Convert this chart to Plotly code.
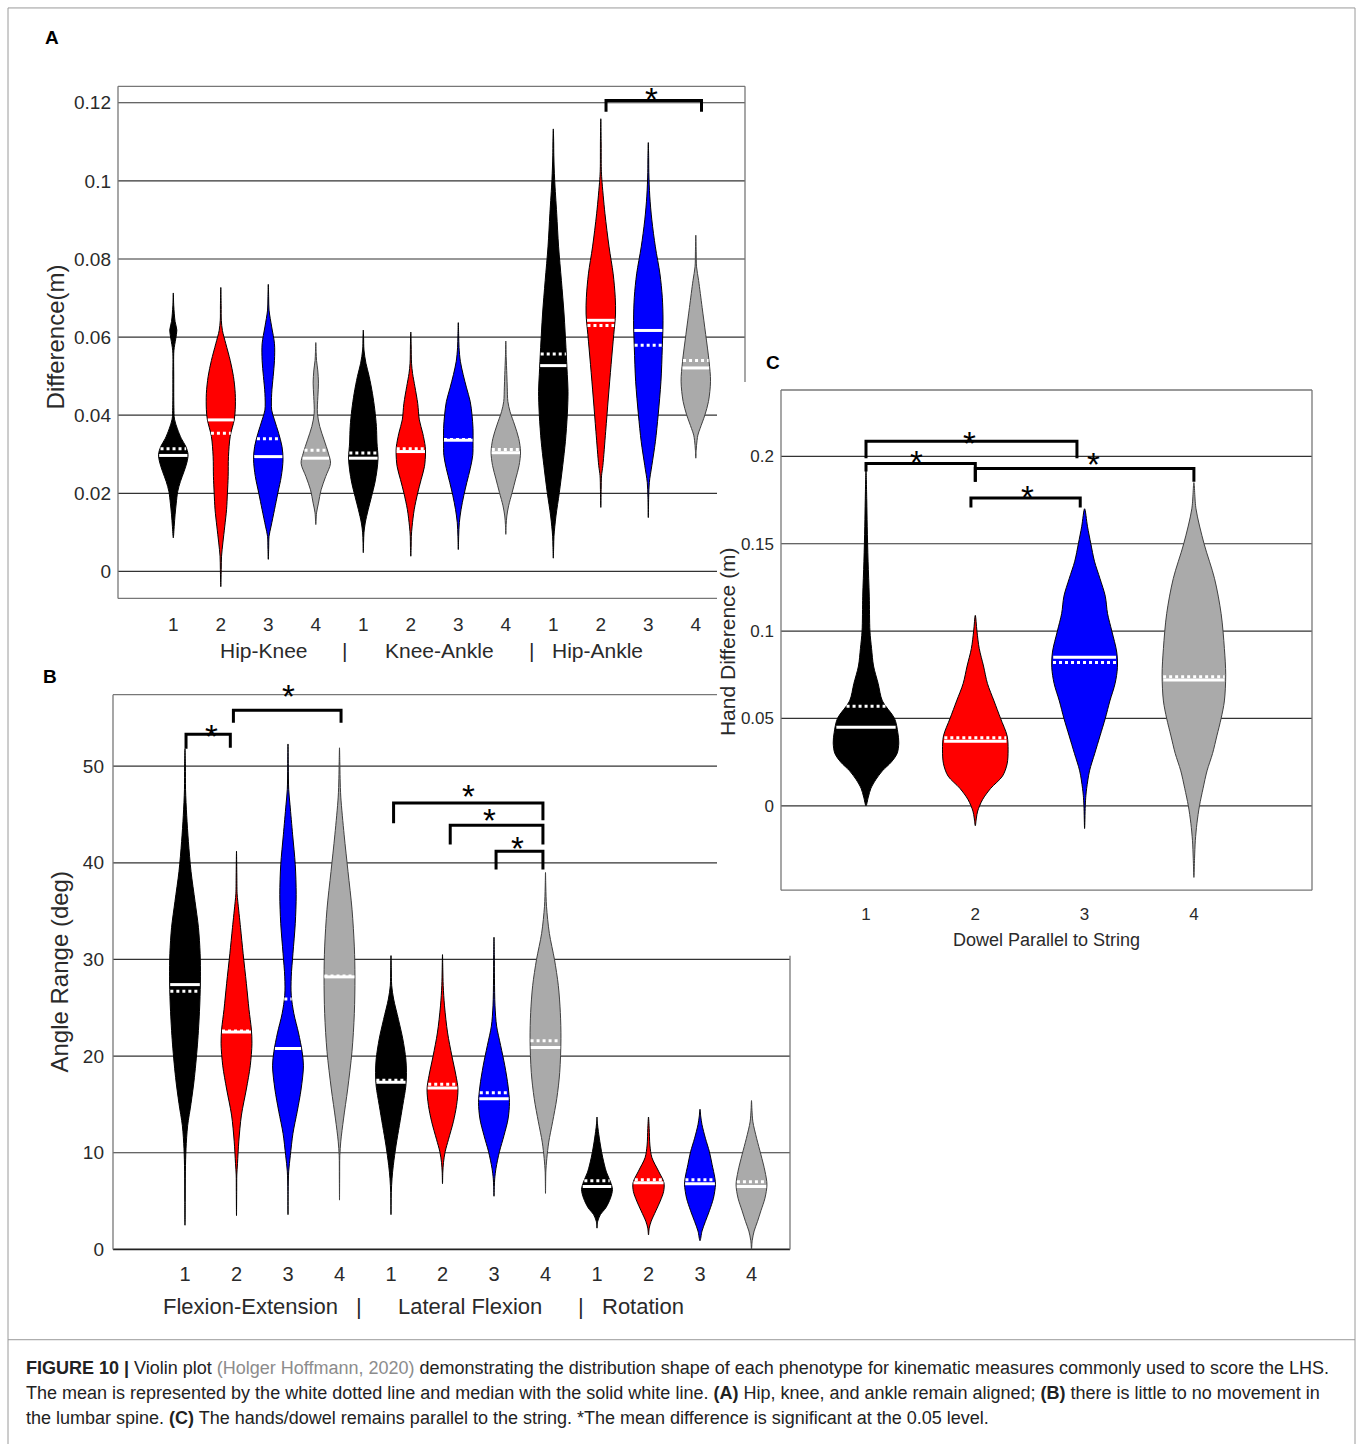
import numpy as np
import plotly.graph_objects as go

# ===================== DATA =====================
phenotypes = ["1", "2", "3", "4"]

# ---- Panel A : Difference (m) ----
A_groups = ["Hip-Knee", "Knee-Ankle", "Hip-Ankle"]
A_ticklabels = phenotypes * 3
A_yticks = [0, 0.02, 0.04, 0.06, 0.08, 0.10, 0.12]
A_yticklabels = ["0", "0.02", "0.04", "0.06", "0.08", "0.1", "0.12"]
A_median = [0.0297, 0.0388, 0.0294, 0.0290, 0.0290, 0.0307, 0.0336, 0.0304, 0.0527, 0.0643, 0.0617, 0.0521]
A_mean = [0.0314, 0.0354, 0.0340, 0.0310, 0.0303, 0.0314, 0.0338, 0.0312, 0.0557, 0.0630, 0.0579, 0.0540]
# density profile of each violin: heights and relative density (1 = widest)
A_dens_y = [
    [0.0086, 0.0115, 0.0145, 0.0175, 0.0205, 0.0230, 0.0255, 0.0280, 0.0300, 0.0320, 0.0340, 0.0365, 0.0390, 0.0420, 0.0500, 0.0565, 0.0595, 0.0618, 0.0640, 0.0680, 0.0713],
    [-0.0039, 0.0005, 0.0039, 0.0073, 0.0116, 0.0158, 0.0201, 0.0243, 0.0294, 0.0346, 0.0388, 0.0414, 0.0456, 0.0499, 0.0540, 0.0583, 0.0617, 0.0643, 0.0680, 0.0727],
    [0.0031, 0.0060, 0.0090, 0.0116, 0.0158, 0.0201, 0.0243, 0.0286, 0.0320, 0.0354, 0.0388, 0.0413, 0.0456, 0.0499, 0.0540, 0.0583, 0.0626, 0.0669, 0.0700, 0.0735],
    [0.0120, 0.0150, 0.0175, 0.0209, 0.0243, 0.0277, 0.0303, 0.0337, 0.0371, 0.0405, 0.0448, 0.0482, 0.0516, 0.0540, 0.0560, 0.0586],
    [0.0048, 0.0075, 0.0099, 0.0124, 0.0158, 0.0192, 0.0226, 0.0260, 0.0290, 0.0329, 0.0371, 0.0414, 0.0456, 0.0499, 0.0533, 0.0567, 0.0600, 0.0618],
    [0.0039, 0.0065, 0.0090, 0.0116, 0.0158, 0.0201, 0.0235, 0.0269, 0.0303, 0.0320, 0.0354, 0.0388, 0.0430, 0.0473, 0.0507, 0.0533, 0.0580, 0.0613],
    [0.0056, 0.0090, 0.0125, 0.0159, 0.0194, 0.0228, 0.0263, 0.0297, 0.0332, 0.0366, 0.0401, 0.0435, 0.0470, 0.0504, 0.0538, 0.0573, 0.0605, 0.0637],
    [0.0095, 0.0120, 0.0142, 0.0168, 0.0202, 0.0237, 0.0271, 0.0306, 0.0340, 0.0375, 0.0409, 0.0435, 0.0470, 0.0504, 0.0550, 0.0590],
    [0.0034, 0.0065, 0.0090, 0.0142, 0.0202, 0.0271, 0.0332, 0.0401, 0.0461, 0.0504, 0.0573, 0.0659, 0.0745, 0.0831, 0.0917, 0.1004, 0.1064, 0.1100, 0.1133],
    [0.0164, 0.0210, 0.0245, 0.0271, 0.0358, 0.0444, 0.0530, 0.0607, 0.0659, 0.0702, 0.0762, 0.0831, 0.0917, 0.1004, 0.1030, 0.1100, 0.1159],
    [0.0138, 0.0190, 0.0228, 0.0271, 0.0332, 0.0401, 0.0487, 0.0573, 0.0642, 0.0702, 0.0762, 0.0831, 0.0900, 0.0961, 0.1021, 0.1060, 0.1098],
    [0.0290, 0.0310, 0.0323, 0.0349, 0.0366, 0.0401, 0.0435, 0.0487, 0.0538, 0.0607, 0.0676, 0.0745, 0.0780, 0.0820, 0.0861],
]
A_dens_w = [
    [0.0, 0.06, 0.12, 0.20, 0.30, 0.48, 0.72, 0.93, 1.0, 0.85, 0.55, 0.28, 0.08, 0.04, 0.03, 0.04, 0.16, 0.24, 0.12, 0.03, 0.0],
    [0.0, 0.03, 0.05, 0.14, 0.27, 0.39, 0.45, 0.50, 0.52, 0.64, 0.91, 0.98, 0.98, 0.86, 0.64, 0.34, 0.11, 0.035, 0.025, 0.0],
    [0.0, 0.025, 0.05, 0.19, 0.42, 0.65, 0.88, 1.0, 0.93, 0.70, 0.42, 0.23, 0.23, 0.33, 0.42, 0.42, 0.23, 0.05, 0.025, 0.0],
    [0.0, 0.05, 0.18, 0.36, 0.67, 1.0, 0.85, 0.56, 0.27, 0.11, 0.14, 0.18, 0.13, 0.05, 0.025, 0.0],
    [0.0, 0.02, 0.045, 0.13, 0.33, 0.56, 0.78, 0.93, 1.0, 0.93, 0.89, 0.78, 0.62, 0.40, 0.18, 0.045, 0.02, 0.0],
    [0.0, 0.025, 0.035, 0.09, 0.23, 0.47, 0.70, 0.93, 1.0, 0.98, 0.81, 0.58, 0.47, 0.28, 0.12, 0.05, 0.025, 0.0],
    [0.0, 0.025, 0.07, 0.19, 0.37, 0.58, 0.81, 0.98, 1.0, 1.0, 0.93, 0.81, 0.56, 0.33, 0.14, 0.05, 0.025, 0.0],
    [0.0, 0.025, 0.07, 0.19, 0.43, 0.67, 0.90, 1.0, 0.88, 0.60, 0.29, 0.14, 0.10, 0.07, 0.025, 0.0],
    [0.0, 0.025, 0.045, 0.18, 0.41, 0.64, 0.82, 0.95, 1.0, 0.95, 0.86, 0.73, 0.55, 0.36, 0.23, 0.09, 0.035, 0.025, 0.0],
    [0.0, 0.025, 0.05, 0.14, 0.33, 0.51, 0.70, 0.88, 1.0, 0.98, 0.84, 0.56, 0.28, 0.07, 0.035, 0.025, 0.0],
    [0.0, 0.025, 0.07, 0.24, 0.48, 0.67, 0.86, 0.95, 1.0, 0.95, 0.79, 0.48, 0.24, 0.10, 0.035, 0.025, 0.0],
    [0.0, 0.025, 0.05, 0.14, 0.29, 0.62, 0.86, 1.0, 0.90, 0.67, 0.43, 0.19, 0.05, 0.025, 0.0],
]
A_sig_x = [[10.11, 12.12]]
A_sig_y = [[0.1177, 0.1206, 0.1177]]
A_star = [[11.06, 0.1231]]

# ---- Panel B : Angle Range (deg) ----
B_groups = ["Flexion-Extension", "Lateral Flexion", "Rotation"]
B_ticklabels = phenotypes * 3
B_yticks = [0, 10, 20, 30, 40, 50]
B_yticklabels = ["0", "10", "20", "30", "40", "50"]
B_median = [27.4, 22.5, 20.8, 28.2, 17.3, 16.7, 15.6, 20.9, 6.5, 6.9, 6.8, 6.5]
B_mean = [26.7, 22.6, 25.9, 28.3, 17.5, 17.1, 16.2, 21.6, 7.1, 7.2, 7.2, 7.0]
B_dens_y = [
    [2.5, 5.0, 8.1, 10.4, 12.8, 15.1, 17.8, 21.7, 25.5, 28.2, 30.6, 33.3, 36.0, 39.1, 42.2, 44.9, 47.6, 50.0, 51.8],
    [3.5, 6.0, 7.7, 8.9, 11.2, 13.9, 16.6, 19.0, 21.3, 22.8, 24.8, 27.5, 30.6, 33.3, 36.0, 36.8, 39.0, 41.2],
    [3.6, 6.0, 8.1, 9.7, 12.0, 14.3, 16.6, 19.0, 20.5, 22.4, 24.4, 26.3, 28.2, 30.6, 33.7, 36.7, 39.8, 42.9, 46.0, 47.6, 50.0, 52.3],
    [5.1, 7.5, 9.7, 11.2, 13.5, 16.6, 20.5, 24.4, 28.2, 31.3, 35.2, 39.1, 42.9, 46.8, 48.7, 50.5, 51.9],
    [3.6, 5.9, 7.3, 8.7, 10.8, 12.8, 14.9, 16.9, 18.3, 19.7, 21.8, 23.8, 25.9, 27.3, 29.0, 30.4],
    [6.8, 8.0, 9.0, 10.1, 11.4, 13.2, 14.9, 16.6, 18.0, 20.0, 22.4, 25.2, 27.3, 29.0, 30.5],
    [5.5, 6.5, 7.3, 8.4, 10.1, 11.8, 13.5, 15.2, 16.9, 19.0, 21.1, 23.1, 25.2, 28.0, 30.5, 32.3],
    [5.8, 7.0, 8.0, 9.4, 11.1, 13.2, 15.6, 18.3, 21.8, 24.5, 27.3, 30.0, 32.7, 35.5, 37.5, 39.0],
    [2.2, 2.9, 3.6, 4.3, 5.3, 6.2, 7.0, 8.0, 9.5, 10.8, 12.2, 13.0, 13.7],
    [1.5, 2.2, 2.9, 4.0, 5.0, 6.0, 6.9, 8.1, 9.5, 10.8, 12.5, 13.7],
    [0.9, 1.9, 2.9, 4.0, 5.3, 6.7, 7.4, 8.8, 10.1, 11.5, 12.9, 13.8, 14.5],
    [0.0, 0.9, 1.9, 2.9, 4.0, 5.3, 6.7, 8.1, 9.8, 11.5, 13.2, 14.4, 15.4],
]
B_dens_w = [
    [0.0, 0.015, 0.025, 0.065, 0.17, 0.39, 0.61, 0.83, 0.96, 1.0, 0.98, 0.87, 0.65, 0.39, 0.22, 0.11, 0.035, 0.025, 0.0],
    [0.0, 0.012, 0.02, 0.065, 0.15, 0.32, 0.64, 0.89, 1.0, 0.96, 0.81, 0.64, 0.43, 0.26, 0.085, 0.04, 0.02, 0.0],
    [0.0, 0.01, 0.045, 0.15, 0.32, 0.60, 0.85, 1.0, 0.91, 0.68, 0.38, 0.21, 0.21, 0.32, 0.47, 0.53, 0.47, 0.30, 0.13, 0.045, 0.02, 0.0],
    [0.0, 0.01, 0.02, 0.085, 0.26, 0.53, 0.81, 0.96, 1.0, 0.96, 0.81, 0.55, 0.30, 0.085, 0.04, 0.02, 0.0],
    [0.0, 0.02, 0.065, 0.15, 0.33, 0.54, 0.76, 0.96, 1.0, 0.96, 0.76, 0.48, 0.17, 0.045, 0.02, 0.0],
    [0.0, 0.02, 0.065, 0.17, 0.39, 0.70, 0.91, 1.0, 0.87, 0.61, 0.33, 0.13, 0.045, 0.02, 0.0],
    [0.0, 0.02, 0.045, 0.13, 0.35, 0.65, 0.91, 1.0, 0.91, 0.70, 0.43, 0.17, 0.065, 0.03, 0.02, 0.0],
    [0.0, 0.01, 0.02, 0.085, 0.21, 0.46, 0.73, 0.92, 1.0, 0.96, 0.83, 0.58, 0.25, 0.065, 0.02, 0.0],
    [0.0, 0.045, 0.22, 0.57, 0.87, 1.0, 0.87, 0.61, 0.37, 0.22, 0.09, 0.03, 0.0],
    [0.0, 0.045, 0.17, 0.48, 0.76, 0.98, 1.0, 0.65, 0.22, 0.09, 0.045, 0.0],
    [0.0, 0.13, 0.35, 0.61, 0.87, 1.0, 0.96, 0.78, 0.61, 0.35, 0.13, 0.045, 0.0],
    [0.0, 0.045, 0.17, 0.39, 0.61, 0.87, 1.0, 0.87, 0.61, 0.33, 0.09, 0.03, 0.0],
]
B_sig_x = [[1.02, 1.88], [1.94, 4.03], [5.05, 7.95], [6.15, 7.95], [7.04, 7.95]]
B_sig_y = [[51.8, 53.3, 51.9], [54.5, 55.8, 54.5], [44.1, 46.2, 44.4], [41.9, 43.9, 41.9], [39.3, 41.2, 39.3]]
B_star = [[1.52, 54.0], [3.0, 58.1], [6.5, 47.8], [6.91, 45.3], [7.45, 42.4]]

# ---- Panel C : Hand Difference (m) ----
C_xtitle = "Dowel Parallel to String"
C_ticklabels = phenotypes
C_yticks = [0, 0.05, 0.10, 0.15, 0.20]
C_yticklabels = ["0", "0.05", "0.1", "0.15", "0.2"]
C_median = [0.045, 0.037, 0.085, 0.072]
C_mean = [0.057, 0.039, 0.082, 0.0738]
C_dens_y = [
    [0.000, 0.005, 0.010, 0.015, 0.020, 0.025, 0.030, 0.036, 0.042, 0.050, 0.060, 0.070, 0.080, 0.090, 0.100, 0.120, 0.140, 0.160, 0.175, 0.192],
    [-0.0114, -0.007, -0.003, 0.0035, 0.010, 0.017, 0.024, 0.032, 0.040, 0.050, 0.060, 0.070, 0.080, 0.090, 0.100, 0.109],
    [-0.013, 0.000, 0.006, 0.010, 0.020, 0.030, 0.040, 0.050, 0.060, 0.070, 0.079, 0.088, 0.100, 0.110, 0.120, 0.130, 0.140, 0.150, 0.160, 0.170],
    [-0.041, -0.030, -0.020, -0.010, 0.000, 0.010, 0.020, 0.030, 0.040, 0.050, 0.060, 0.075, 0.090, 0.110, 0.130, 0.150, 0.170, 0.185],
]
C_dens_w = [
    [0.0, 0.07, 0.15, 0.30, 0.50, 0.77, 0.95, 1.0, 0.97, 0.87, 0.50, 0.37, 0.23, 0.17, 0.12, 0.10, 0.063, 0.037, 0.023, 0.0],
    [0.0, 0.033, 0.073, 0.22, 0.47, 0.83, 0.97, 1.0, 0.97, 0.77, 0.57, 0.37, 0.25, 0.12, 0.05, 0.0],
    [0.0, 0.02, 0.04, 0.063, 0.15, 0.31, 0.47, 0.63, 0.77, 0.93, 1.0, 0.98, 0.83, 0.70, 0.63, 0.47, 0.30, 0.19, 0.087, 0.0],
    [0.0, 0.02, 0.043, 0.093, 0.17, 0.28, 0.40, 0.57, 0.70, 0.83, 0.93, 0.97, 0.93, 0.83, 0.63, 0.31, 0.063, 0.0],
]
C_sig_x = [[1.0, 2.93], [1.0, 2.0], [2.0, 4.0], [1.96, 2.96]]
C_sig_y = [[0.199, 0.2087, 0.199], [0.1914, 0.1959, 0.1855], [0.1855, 0.1931, 0.1855], [0.1707, 0.1762, 0.1707]]
C_star = [[1.95, 0.2126], [1.46, 0.2018], [3.08, 0.2005], [2.48, 0.1817]]

caption_lines = [
    "<b>FIGURE 10 |</b> Violin plot <span style='color:#8c8c8c'>(Holger Hoffmann, 2020)</span> demonstrating the distribution shape of each phenotype for kinematic measures commonly used to score the LHS.",
    "The mean is represented by the white dotted line and median with the solid white line. <b>(A)</b> Hip, knee, and ankle remain aligned; <b>(B)</b> there is little to no movement in",
    "the lumbar spine. <b>(C)</b> The hands/dowel remains parallel to the string. *The mean difference is significant at the 0.05 level.",
]

# ===================== STYLE / LAYOUT =====================
W, H = 1360, 1444
FONT = "Liberation Sans, Arial, Helvetica, sans-serif"
TXT = "#2a2a2a"
FILL = ["#000000", "#ff0000", "#0000ff", "#aaaaaa"]
EDGE = ["#000000", "#000000", "#000000", "#404040"]
GRID = "#333333"
BOXC = "#777777"


def px_x(px):
    return px / W


def px_y(py):
    return 1 - py / H


# plot-area boxes in pixels (left, top, right, bottom), first-category pixel, category step
GEO = {
    "A": dict(box=(118, 87, 745, 603), x0px=173.3, step=47.5, yr=(-0.0069, 0.1242), hw=0.31, xa="x", ya="y"),
    "B": dict(box=(113, 700, 790, 1259), x0px=185.0, step=51.5, yr=(0.0, 57.4), hw=0.30, xa="x2", ya="y2"),
    "C": dict(box=(781, 393, 1312, 897), x0px=866.0, step=109.3, yr=(-0.0483, 0.238), hw=0.30, xa="x3", ya="y3"),
}
COVER_LEFT, COVER_TOP, COVER_BOTTOM = 717, 385, 963  # region hidden behind panel C's picture

for g in GEO.values():
    l, t, r, b = g["box"]
    g["xr"] = (1 + (l - g["x0px"]) / g["step"], 1 + (r - g["x0px"]) / g["step"])


def val_to_py(g, v):
    l, t, r, b = g["box"]
    return b - (v - g["yr"][0]) / (g["yr"][1] - g["yr"][0]) * (b - t)


fig = go.Figure()
shapes = []
annos = []


def add_violins(key, dens_y, dens_w, med, mean):
    g = GEO[key]
    for i, (ys, ws) in enumerate(zip(dens_y, dens_w)):
        pos = i + 1
        ys = np.asarray(ys, float)
        hw = np.asarray(ws, float) * g["hw"]
        xs = np.concatenate([pos + hw, (pos - hw)[::-1][1:]])
        yy = np.concatenate([ys, ys[::-1][1:]])
        c = i % 4
        fig.add_trace(go.Scatter(
            x=xs, y=yy, mode="lines", fill="toself", fillcolor=FILL[c],
            line=dict(color=EDGE[c], width=1, shape="spline", smoothing=0.9),
            xaxis=g["xa"], yaxis=g["ya"], showlegend=False, hoverinfo="skip"))
        for val, dash in ((mean[i], "dot"), (med[i], "solid")):
            w = np.interp(val, ys, hw) * 0.97
            fig.add_trace(go.Scatter(
                x=[pos - w, pos + w], y=[val, val], mode="lines",
                line=dict(color="white", width=3, dash=dash),
                xaxis=g["xa"], yaxis=g["ya"], showlegend=False, hoverinfo="skip"))


def add_sig(key, sx, sy, stars):
    g = GEO[key]
    for (x1, x2), (yl, yt, yr_) in zip(sx, sy):
        fig.add_trace(go.Scatter(
            x=[x1, x1, x2, x2], y=[yl, yt, yt, yr_], mode="lines",
            line=dict(color="black", width=3), xaxis=g["xa"], yaxis=g["ya"],
            showlegend=False, hoverinfo="skip", cliponaxis=False))
    for sxp, syp in stars:
        # star may sit above the axis range, so place it vertically in paper space
        annos.append(dict(x=sxp, y=px_y(val_to_py(g, syp)), xref=g["xa"], yref="paper", text="*",
                          showarrow=False, font=dict(family=FONT, size=33, color="black"),
                          yanchor="middle", yshift=-9))


def frame_panel(key, yticks, box_color=BOXC):
    g = GEO[key]
    l, t, r, b = g["box"]
    covered = key != "C"

    def hline(py, x0, x1, color, width):
        if covered and COVER_TOP <= py <= COVER_BOTTOM:
            x1 = min(x1, COVER_LEFT)
        shapes.append(dict(type="line", xref="paper", yref="paper", x0=px_x(x0), x1=px_x(x1),
                           y0=px_y(py), y1=px_y(py), line=dict(color=color, width=width), layer="below"))

    for v in yticks:
        py = val_to_py(g, v)
        if abs(py - b) > 2:
            hline(py, l, r, GRID, 1.2)
    hline(t, l, r, box_color, 1.3)
    hline(b, l, r, "#222222" if key == "B" else box_color, 1.6 if key == "B" else 1.3)
    shapes.append(dict(type="line", xref="paper", yref="paper", x0=px_x(l), x1=px_x(l),
                       y0=px_y(t), y1=px_y(b), line=dict(color=box_color, width=1.3), layer="below"))
    segs = [(t, b)]
    if covered:
        segs = []
        if t < COVER_TOP:
            segs.append((t, min(b, COVER_TOP)))
        if b > COVER_BOTTOM:
            segs.append((max(t, COVER_BOTTOM), b))
    for y0, y1 in segs:
        shapes.append(dict(type="line", xref="paper", yref="paper", x0=px_x(r), x1=px_x(r),
                           y0=px_y(y0), y1=px_y(y1), line=dict(color=box_color, width=1.3), layer="below"))


add_violins("A", A_dens_y, A_dens_w, A_median, A_mean)
add_violins("B", B_dens_y, B_dens_w, B_median, B_mean)
add_violins("C", C_dens_y, C_dens_w, C_median, C_mean)
add_sig("A", A_sig_x, A_sig_y, A_star)
add_sig("B", B_sig_x, B_sig_y, B_star)
add_sig("C", C_sig_x, C_sig_y, C_star)
frame_panel("A", A_yticks)
frame_panel("B", B_yticks)
frame_panel("C", C_yticks)


def text(x, y, s, size, xref="paper", yref="paper", angle=0, bold=False, color=TXT, xanchor="center"):
    annos.append(dict(x=x, y=y, xref=xref, yref=yref, text=f"<b>{s}</b>" if bold else s, showarrow=False,
                      textangle=angle, xanchor=xanchor, yanchor="middle",
                      font=dict(family=FONT, size=size, color=color)))


# panel letters
text(px_x(52), px_y(38), "A", 19, bold=True, color="black")
text(px_x(50), px_y(682), "B", 19, bold=True, color="black")
text(px_x(773), px_y(365), "C", 19, bold=True, color="black")

# axis titles
text(px_x(55), px_y(340), "Difference(m)", 24, angle=-90)
text(px_x(60), px_y(980), "Angle Range (deg)", 24, angle=-90)
text(px_x(727), px_y(647), "Hand Difference (m)", 21, angle=-90)
text(px_x(1046), px_y(947), C_xtitle, 18)

# group labels under panels A and B
A_group_x = [2.91, 6.61, 9.94]
A_sep_x = [4.61, 8.55]
for gx, s in zip(A_group_x, A_groups):
    text(gx, px_y(655), s, 21, xref="x")
for sx in A_sep_x:
    text(sx, px_y(655), "|", 21, xref="x")
B_group_x = [2.28, 6.53, 9.89]
B_sep_x = [4.38, 8.69]
for gx, s in zip(B_group_x, B_groups):
    text(gx, px_y(1317), s, 22, xref="x2")
for sx in B_sep_x:
    text(sx, px_y(1317), "|", 22, xref="x2")

# caption
for k, (line, py) in enumerate(zip(caption_lines, [1378, 1404, 1429])):
    text(px_x(24), px_y(py), line, 18, color="#222222", xanchor="left")

# outer frame and caption separator
shapes.append(dict(type="rect", xref="paper", yref="paper", x0=px_x(8), x1=px_x(1355), y0=px_y(1470), y1=px_y(8),
                   line=dict(color="#9a9a9a", width=1), layer="below"))
shapes.append(dict(type="line", xref="paper", yref="paper", x0=px_x(8), x1=px_x(1355), y0=px_y(1350), y1=px_y(1350),
                   line=dict(color="#9a9a9a", width=1), layer="below"))


def xaxis_cfg(key, ticktext, size, standoff):
    g = GEO[key]
    l, t, r, b = g["box"]
    return dict(domain=[px_x(l), px_x(r)], range=list(g["xr"]), anchor=g["ya"],
                showgrid=False, zeroline=False, showline=False, ticks="",
                tickmode="array", tickvals=list(range(1, len(ticktext) + 1)), ticktext=ticktext,
                tickfont=dict(family=FONT, size=size, color=TXT), ticklabelstandoff=standoff,
                fixedrange=True)


def yaxis_cfg(key, tickvals, ticktext, size, standoff):
    g = GEO[key]
    l, t, r, b = g["box"]
    return dict(domain=[px_y(b), px_y(t)], range=list(g["yr"]), anchor=g["xa"],
                showgrid=False, zeroline=False, showline=False, ticks="",
                tickmode="array", tickvals=tickvals, ticktext=ticktext,
                tickfont=dict(family=FONT, size=size, color=TXT), ticklabelstandoff=standoff,
                fixedrange=True)


fig.update_layout(
    width=W, height=H, autosize=False,
    margin=dict(l=0, r=0, t=0, b=0),
    paper_bgcolor="white", plot_bgcolor="rgba(0,0,0,0)",
    showlegend=False,
    xaxis=xaxis_cfg("A", A_ticklabels, 19, 13),
    yaxis=yaxis_cfg("A", A_yticks, A_yticklabels, 19, 6),
    xaxis2=xaxis_cfg("B", B_ticklabels, 20, 11),
    yaxis2=yaxis_cfg("B", B_yticks, B_yticklabels, 19, 8),
    xaxis3=xaxis_cfg("C", C_ticklabels, 17, 12),
    yaxis3=yaxis_cfg("C", C_yticks, C_yticklabels, 17, 6),
    shapes=shapes,
    annotations=annos,
)

fig.write_html("out.html", include_plotlyjs=True, config={"displayModeBar": False})
